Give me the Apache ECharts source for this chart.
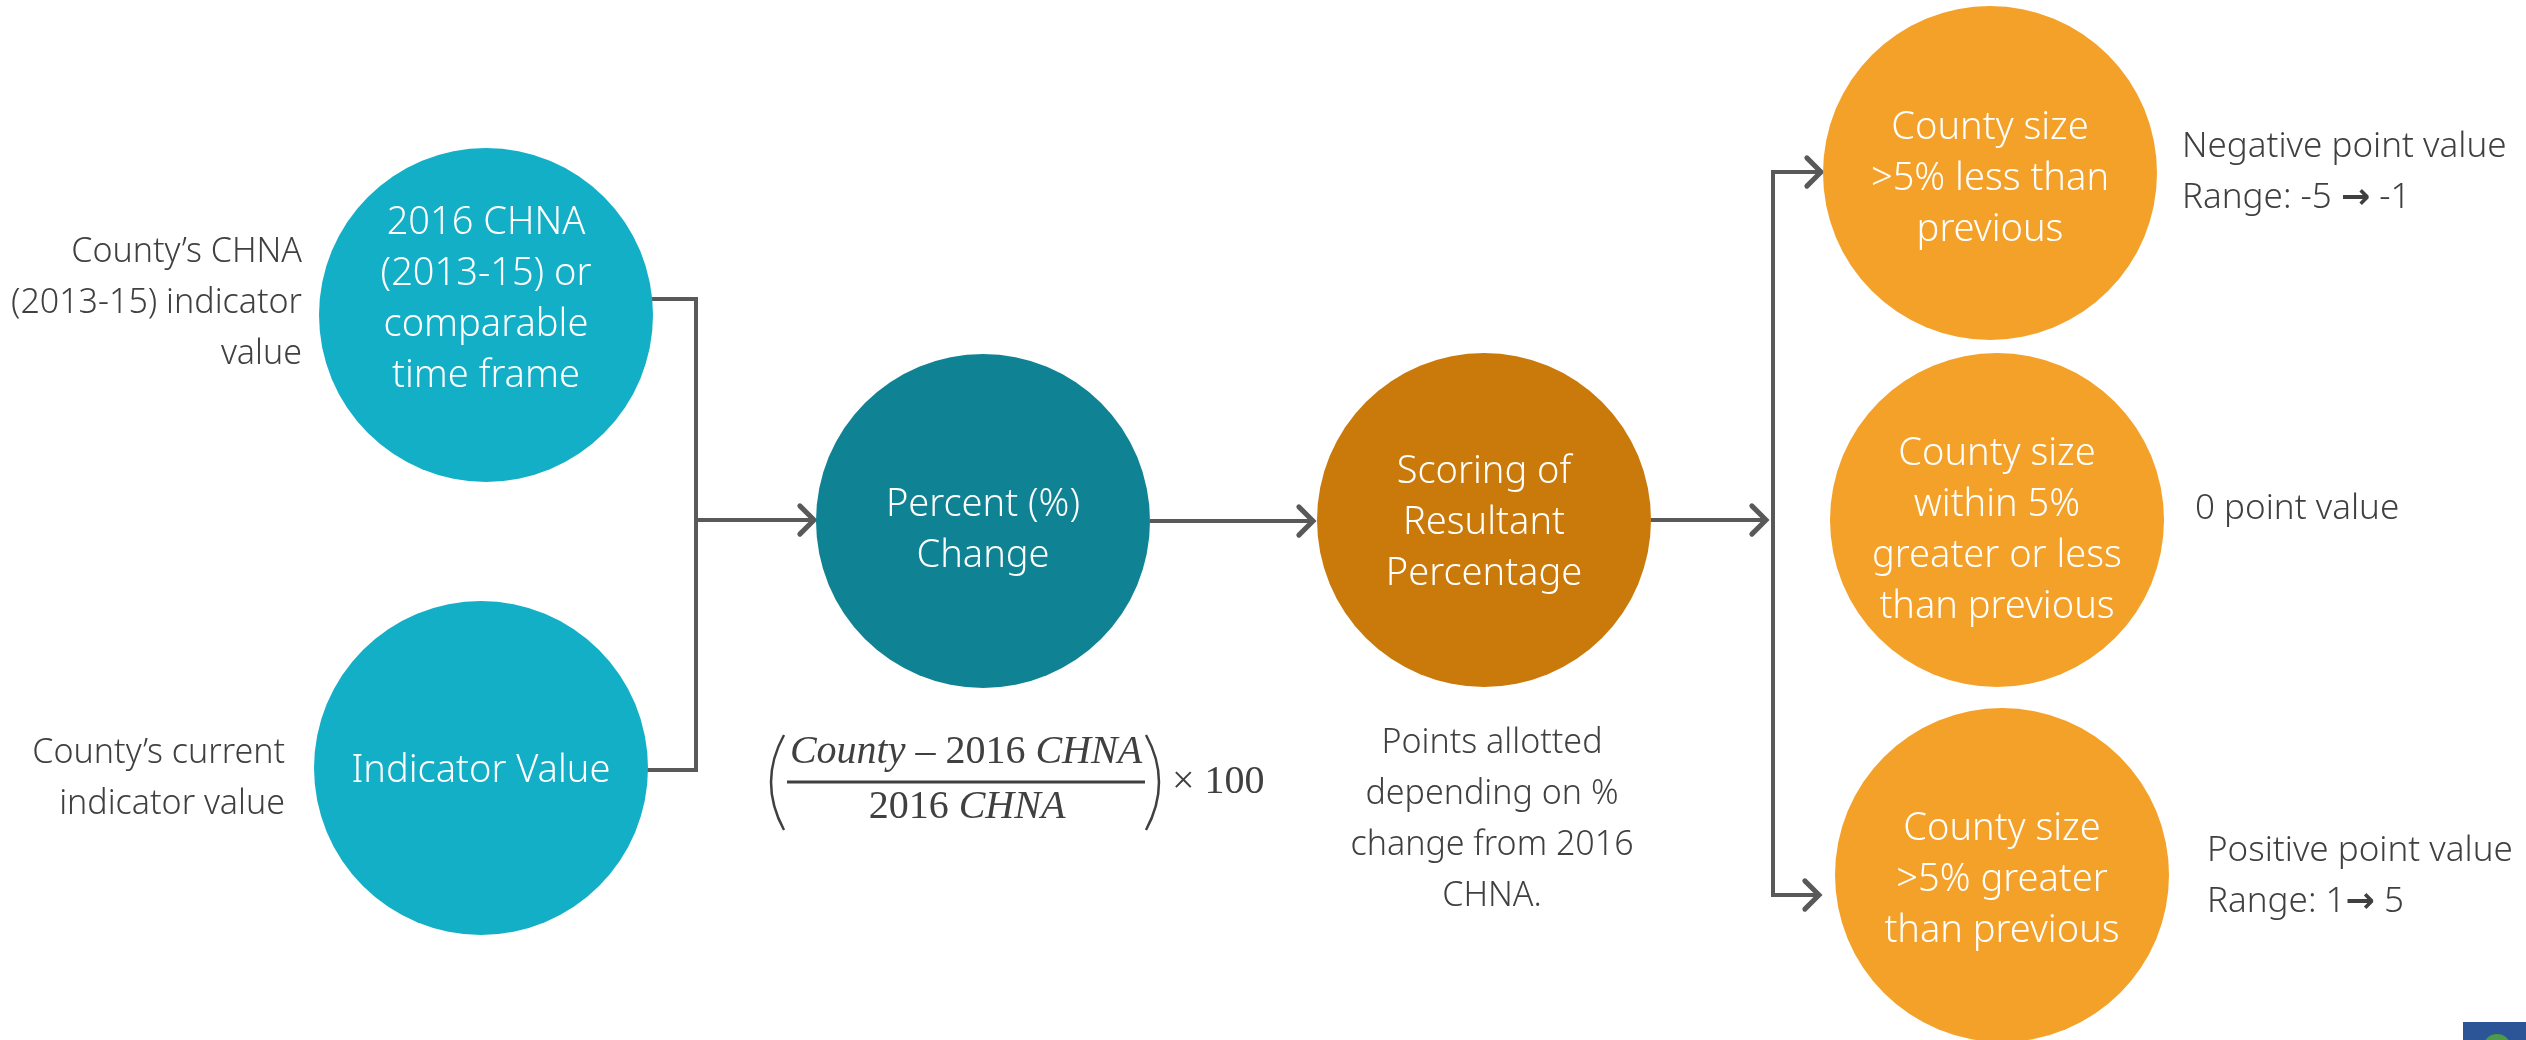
<!DOCTYPE html>
<html>
<head>
<meta charset="utf-8">
<script src="https://cdn.jsdelivr.net/npm/echarts@6/dist/echarts.min.js"></script>
<style>html,body{margin:0;padding:0;background:#fff;}#c{width:2526px;height:1040px;}</style>
</head>
<body>
<div id="c"></div>
<script>
// ---- content (data) ----
const nodeLabels = [
  '2016 CHNA\n(2013-15) or\ncomparable\ntime frame',
  'Indicator Value',
  'Percent (%)\nChange',
  'Scoring of\nResultant\nPercentage',
  'County size\n>5% less than\nprevious',
  'County size\nwithin 5%\ngreater or less\nthan previous',
  'County size\n>5% greater\nthan previous'
];
const leftNotes = [
  'County\u2019s CHNA\n(2013-15) indicator\nvalue',
  'County\u2019s current\nindicator value'
];
const bottomNote = 'Points allotted\ndepending on %\nchange from 2016\nCHNA.';
const rightNotes = [
  'Negative point value\nRange: -5 {a|\u2192} -1',
  '0 point value',
  'Positive point value\nRange: 1{a|\u2192} 5'
];
const formulaNumerator = ['County ', '\u2013 2016 ', 'CHNA'];
const formulaDenominator = ['2016 ', 'CHNA'];
const formulaFactor = '\u00d7 100';

// ---- layout (positions / sizes / styles) ----
const nodeX = [486, 481, 983, 1484, 1990, 1997, 2002];
const nodeY = [315, 768, 521, 520, 173, 520, 875];
const nodeR = 167;
const nodeColors = ['#13AFC7', '#13AFC7', '#0F8394', '#C97A0A', '#F4A12A', '#F4A12A', '#F4A12A'];
const labelDy = [-15, 3, 10, 3, 6, 11, 5];

const connectors = [
  { pts: [[652, 299], [696, 299], [696, 770], [647, 770]], arrow: false },
  { pts: [[696, 520], [814, 520]], arrow: true },
  { pts: [[1150, 521], [1313, 521]], arrow: true },
  { pts: [[1651, 520], [1766, 520]], arrow: true },
  { pts: [[1773, 520], [1773, 172], [1821, 172]], arrow: true },
  { pts: [[1773, 520], [1773, 895], [1819, 895]], arrow: true }
];

const notes = [
  { text: leftNotes[0], x: 302, y: 303, align: 'right', size: 34 },
  { text: leftNotes[1], x: 285, y: 779, align: 'right', size: 34 },
  { text: bottomNote, x: 1492, y: 820, align: 'center', size: 34 },
  { text: rightNotes[0], x: 2182, y: 173, align: 'left', size: 35 },
  { text: rightNotes[1], x: 2195, y: 509, align: 'left', size: 35 },
  { text: rightNotes[2], x: 2207, y: 877, align: 'left', size: 35 }
];

const FONT = '"Noto Sans", "Open Sans", sans-serif';
const LINE = '#595959';
const TXT = '#404040';

const chart = echarts.init(document.getElementById('c'), null, { renderer: 'canvas' });

const option = {
  backgroundColor: '#ffffff',
  animation: false,
  grid: { left: 0, right: 0, top: 0, bottom: 0 },
  xAxis: { type: 'value', min: 0, max: 2526, show: false },
  yAxis: { type: 'value', min: 0, max: 1040, inverse: true, show: false },
  series: [
    {
      type: 'custom',
      z: 1,
      data: connectors.map((c, i) => [i]),
      renderItem: function (params, api) {
        const c = connectors[api.value(0)];
        const pts = c.pts.map(p => api.coord(p));
        const children = [{
          type: 'polyline',
          shape: { points: pts },
          style: { stroke: LINE, lineWidth: 4, fill: null, lineJoin: 'miter' }
        }];
        if (c.arrow) {
          const a = pts[pts.length - 2], b = pts[pts.length - 1];
          const ang = Math.atan2(b[1] - a[1], b[0] - a[0]);
          const L = 20;
          const p1 = [b[0] - L * Math.cos(ang - Math.PI / 4), b[1] - L * Math.sin(ang - Math.PI / 4)];
          const p2 = [b[0] - L * Math.cos(ang + Math.PI / 4), b[1] - L * Math.sin(ang + Math.PI / 4)];
          children.push({
            type: 'polyline',
            shape: { points: [p1, b, p2] },
            style: { stroke: LINE, lineWidth: 5, fill: null, lineCap: 'round', lineJoin: 'miter' }
          });
        }
        return { type: 'group', children: children };
      }
    },
    {
      type: 'scatter',
      z: 2,
      symbol: 'circle',
      symbolSize: nodeR * 2,
      itemStyle: { opacity: 1 },
      data: nodeLabels.map((t, i) => ({
        value: [nodeX[i], nodeY[i]],
        name: t,
        itemStyle: { color: nodeColors[i], opacity: 1 },
        label: { offset: [0, labelDy[i]] }
      })),
      label: {
        show: true,
        position: 'inside',
        formatter: p => p.name,
        color: '#ffffff',
        fontFamily: FONT,
        fontWeight: 300,
        fontSize: 38,
        lineHeight: 51,
        align: 'center'
      },
      emphasis: { disabled: true }
    },
    {
      type: 'custom',
      z: 3,
      data: notes.map((n, i) => [n.x, n.y, i]),
      renderItem: function (params, api) {
        const n = notes[api.value(2)];
        const p = api.coord([api.value(0), api.value(1)]);
        return {
          type: 'text',
          x: p[0], y: p[1],
          style: {
            text: n.text,
            fill: TXT,
            align: n.align,
            verticalAlign: 'middle',
            fontFamily: FONT,
            fontWeight: 300,
            fontSize: n.size,
            lineHeight: 51,
            rich: {
              a: { fontFamily: '"DejaVu Sans", sans-serif', fontWeight: 'bold', fontSize: n.size, fill: TXT, lineHeight: 51 }
            }
          }
        };
      }
    }
  ],
  graphic: [
    // formula
    { type: 'bezierCurve', shape: { x1: 784, y1: 735, x2: 784, y2: 830, cpx1: 758, cpy1: 782 }, style: { stroke: '#404040', lineWidth: 2.5, fill: null } },
    { type: 'bezierCurve', shape: { x1: 1146, y1: 735, x2: 1146, y2: 830, cpx1: 1172, cpy1: 782 }, style: { stroke: '#404040', lineWidth: 2.5, fill: null } },
    {
      type: 'text', x: 966, y: 752,
      style: {
        text: '{i|' + formulaNumerator[0] + '}{n|' + formulaNumerator[1] + '}{i|' + formulaNumerator[2] + '}',
        align: 'center', verticalAlign: 'middle',
        rich: {
          i: { fontFamily: '"Liberation Serif", serif', fontStyle: 'italic', fontSize: 40, fill: '#404040' },
          n: { fontFamily: '"Liberation Serif", serif', fontSize: 40, fill: '#404040' }
        }
      }
    },
    { type: 'line', shape: { x1: 787, y1: 782, x2: 1145, y2: 782 }, style: { stroke: '#404040', lineWidth: 3 } },
    {
      type: 'text', x: 967, y: 807,
      style: {
        text: '{n|' + formulaDenominator[0] + '}{i|' + formulaDenominator[1] + '}',
        align: 'center', verticalAlign: 'middle',
        rich: {
          i: { fontFamily: '"Liberation Serif", serif', fontStyle: 'italic', fontSize: 40, fill: '#404040' },
          n: { fontFamily: '"Liberation Serif", serif', fontSize: 40, fill: '#404040' }
        }
      }
    },
    {
      type: 'text', x: 1172, y: 782,
      style: { text: formulaFactor, align: 'left', verticalAlign: 'middle', fontFamily: '"Liberation Serif", serif', fontSize: 40, fill: '#404040' }
    },
    // logo corner
    { type: 'rect', shape: { x: 2463, y: 1022, width: 63, height: 18 }, style: { fill: '#2B5597' } },
    { type: 'circle', shape: { cx: 2497, cy: 1048, r: 14 }, style: { fill: '#4E9A4A' } }
  ]
};
chart.setOption(option);
</script>
</body>
</html>
